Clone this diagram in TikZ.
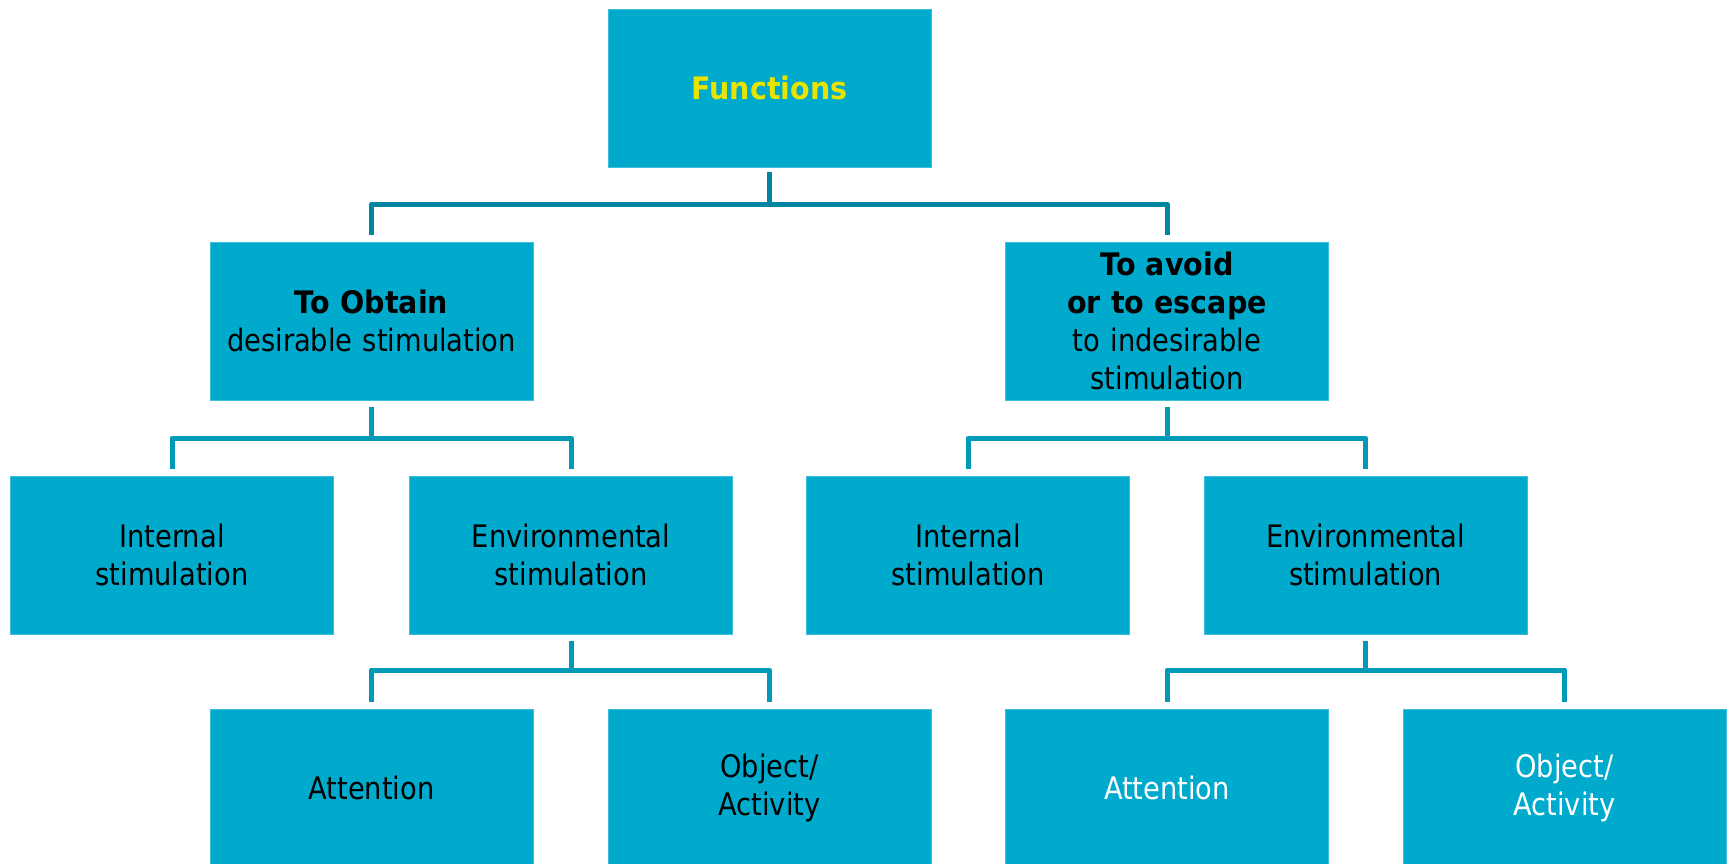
\documentclass[tikz,border=0pt]{standalone}
\usepackage{fontspec}
\setmainfont{DejaVu Sans}[UprightFeatures={FakeStretch=0.88},BoldFeatures={FakeStretch=0.92}]
\definecolor{boxc}{RGB}{0,170,204}
\definecolor{boxedge}{RGB}{60,190,220}
\definecolor{connA}{RGB}{0,134,160}
\definecolor{connB}{RGB}{0,153,184}
\definecolor{fyellow}{RGB}{230,228,0}
\begin{document}
\begin{tikzpicture}[x=1pt,y=1pt,
  box/.style={draw=boxedge, line width=1pt, fill=boxc, minimum width=323pt, minimum height=158pt,
    inner sep=0pt, align=center, text width=310pt, font=\fontsize{31}{38}\selectfont},
  connTop/.style={draw=connA, line width=5pt, line join=round},
  conn/.style={draw=connB, line width=5pt, line join=round}]
\useasboundingbox (0,0) rectangle (1731,-863);
\clip (0,0) rectangle (1731,-863);
% level 1
\node[box, text=fyellow, font=\fontsize{31}{38}\selectfont\bfseries] (f) at (769.5,-88) {Functions};
% level 2
\node[box] (o) at (371.5,-321) {\textbf{To Obtain}\\desirable stimulation};
\node[box] (a) at (1167,-321) {\textbf{To avoid}\\\textbf{or to escape}\\to indesirable\\stimulation};
% level 3
\node[box] (oi) at (172,-555) {Internal\\stimulation};
\node[box] (oe) at (571,-555) {Environmental\\stimulation};
\node[box] (ai) at (968,-555) {Internal\\stimulation};
\node[box] (ae) at (1365.5,-555) {Environmental\\stimulation};
% level 4
\node[box] (oa) at (371.5,-788) {Attention};
\node[box] (oo) at (769.5,-788) {Object/\\Activity};
\node[box, text=white] (aa) at (1167,-788) {Attention};
\node[box, text=white] (ao) at (1564.5,-788) {Object/\\Activity};
% junctions
\coordinate (j1) at (f.south |- 0,-204);
\coordinate (j2) at (o.south |- 0,-438);
\coordinate (j3) at (a.south |- 0,-438);
\coordinate (j4) at (oe.south |- 0,-670);
\coordinate (j5) at (ae.south |- 0,-670);
% connectors
\draw[connTop] ([yshift=-4pt]f.south) -- (j1);
\draw[connTop] ([yshift=7pt]o.north) |- (j1) -| ([yshift=7pt]a.north);
\draw[conn] ([yshift=-6pt]o.south) -- (j2);
\draw[conn] ([yshift=7pt]oi.north) |- (j2) -| ([yshift=7pt]oe.north);
\draw[conn] ([yshift=-6pt]a.south) -- (j3);
\draw[conn] ([yshift=7pt]ai.north) |- (j3) -| ([yshift=7pt]ae.north);
\draw[conn] ([yshift=-6pt]oe.south) -- (j4);
\draw[conn] ([yshift=7pt]oa.north) |- (j4) -| ([yshift=7pt]oo.north);
\draw[conn] ([yshift=-6pt]ae.south) -- (j5);
\draw[conn] ([yshift=7pt]aa.north) |- (j5) -| ([yshift=7pt]ao.north);
\end{tikzpicture}
\end{document}
